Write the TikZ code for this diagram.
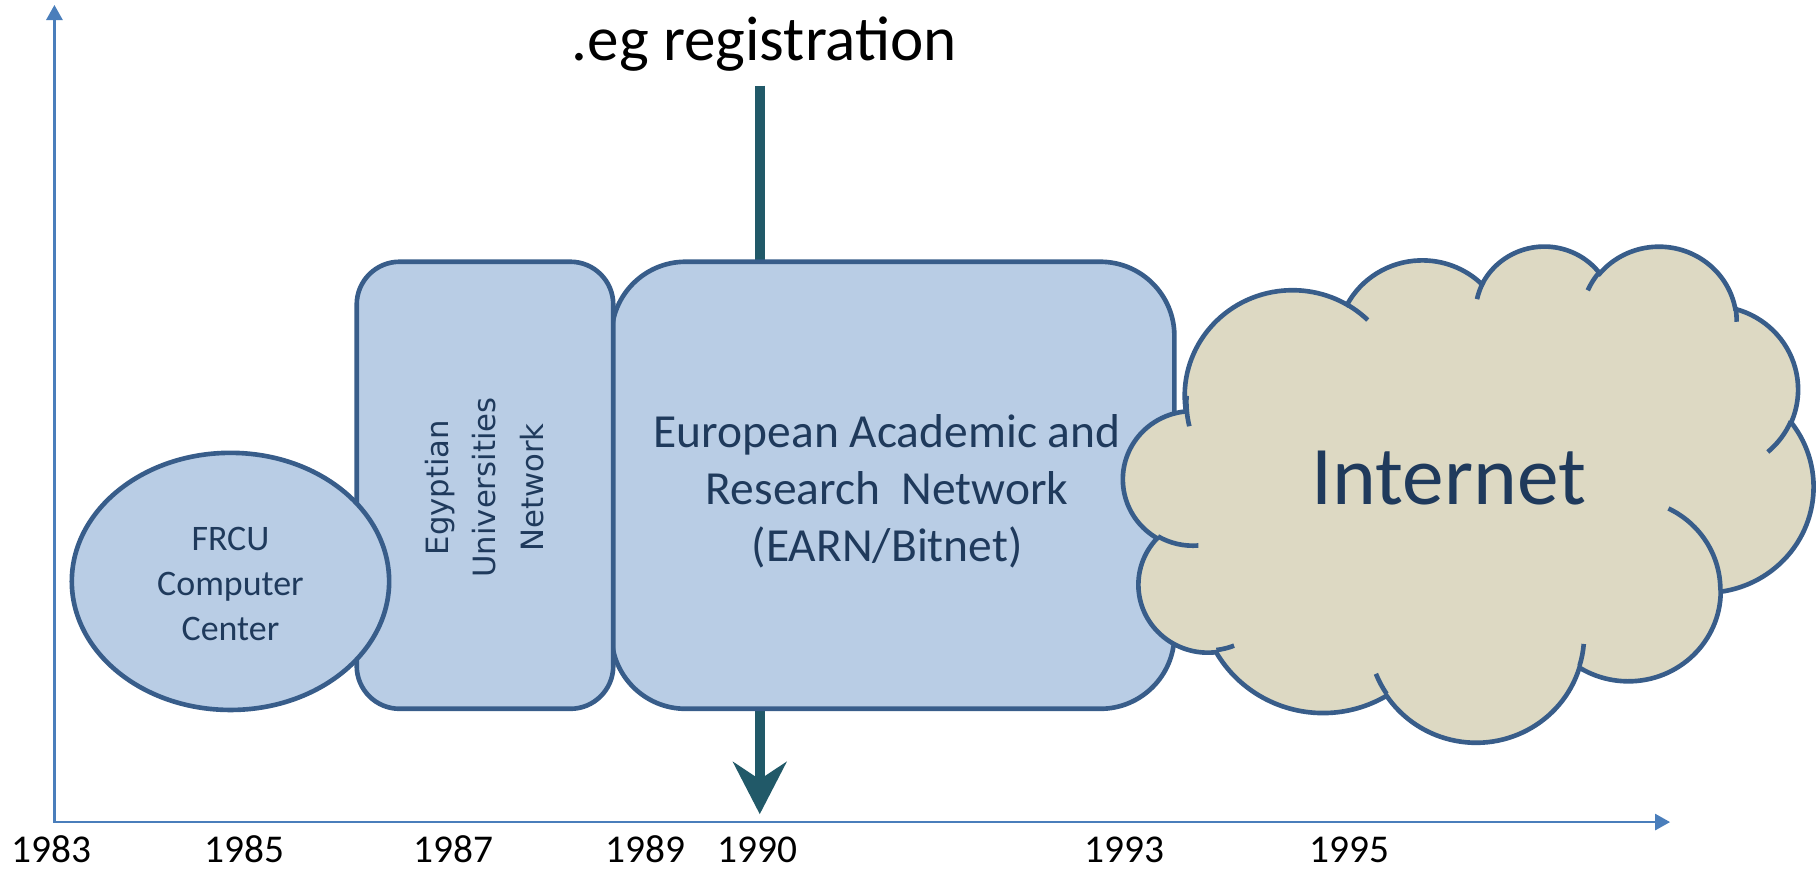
\documentclass[tikz,border=0pt]{standalone}
\usepackage{fontspec}
\setmainfont{Carlito}
\newfontfamily\egyfont{DejaVu Sans}
\usetikzlibrary{arrows.meta}

\definecolor{netfill}{HTML}{B9CDE5}
\definecolor{netline}{HTML}{385D8A}
\definecolor{cloudfill}{HTML}{DDD9C3}
\definecolor{axisblue}{HTML}{4A7EBB}
\definecolor{regteal}{HTML}{215968}
\definecolor{netnavy}{HTML}{1F3A5C}

\tikzset{every picture/.style={line width=0.75pt}}
\tikzset{
  netbox/.style={draw=netline, line width=4, fill=netfill},
  cloudbody/.style={draw=netline, line width=4, fill=cloudfill},
  cloudcurl/.style={draw=netline, line width=4},
  axisline/.style={draw=axisblue, line width=2, {Triangle[length=13pt,width=14pt]}-{Triangle[length=13pt,width=14pt]}},
  regarrow/.style={draw=regteal, line width=8.6, -{Stealth[length=45pt,width=46pt,inset=15pt]}},
  yearlab/.style={anchor=base, font=\fontsize{34}{40}\selectfont},
  nettext/.style={text=netnavy, align=center, inner sep=0pt},
}

% cloud outline arcs: visual angle -> parametric angle
\newcommand\cloudseg[5]{%
  \pgfmathsetmacro\cta{atan2((#2)*sin(#4),(#3)*cos(#4))}%
  \pgfmathsetmacro\ctb{atan2((#2)*sin(#4+#5),(#3)*cos(#4+#5))}%
  \pgfmathsetmacro\ctd{\ctb-\cta}%
  \pgfmathsetmacro\ctd{\ctd-360*round((\ctd-(#5))/360)}%
  \edef\cttmp{\noexpand\tikzset{#1/.style={x radius=#2,y radius=#3,start angle=\cta,delta angle=\ctd}}}%
  \cttmp}
\cloudseg{outA}{6753}{9190}{-190.4875}{123.7805}
\cloudseg{outB}{5333}{7267}{-144.1024}{89.9452}
\cloudseg{outC}{4365}{5945}{-145.8079}{99.7230}
\cloudseg{outD}{4857}{6595}{-130.9861}{117.2417}
\cloudseg{outE}{5333}{7273}{-78.7089}{109.0269}
\cloudseg{outF}{6775}{9220}{-46.2673}{130.2690}
\cloudseg{outG}{5785}{7867}{0.6250}{114.0333}
\cloudseg{outH}{6752}{9215}{22.4516}{115.1726}
\cloudseg{outI}{7720}{10543}{66.2426}{75.7110}
\cloudseg{outJ}{4360}{5918}{-274.9421}{146.7356}
\cloudseg{outK}{4345}{5945}{-246.8285}{152.5189}
\cloudseg{curlA}{4345}{5945}{86.7420}{26.4295}
\cloudseg{curlB}{4360}{5918}{73.6105}{11.4475}
\cloudseg{curlC}{6752}{9215}{137.6242}{14.0811}
\cloudseg{curlD}{6752}{9215}{6.4533}{15.9984}
\cloudseg{curlE}{5785}{7867}{-70.2924}{70.9174}
\cloudseg{curlF}{5333}{7273}{30.3180}{27.7515}
\cloudseg{curlG}{4857}{6595}{-13.7443}{14.8548}
\cloudseg{curlH}{4857}{6595}{-149.1815}{18.1961}
\cloudseg{curlI}{4365}{5945}{-163.4943}{19.0084}
\cloudseg{curlJ}{6753}{9190}{-66.7070}{12.3194}
\cloudseg{curlK}{6753}{9190}{162.0364}{22.2949}

\begin{document}
\begin{tikzpicture}[x=1pt,y=1pt,yscale=-1,xscale=1]
	\useasboundingbox (0,0) rectangle (1568,752);
	
	%Straight Lines: .eg registration arrow
	\coordinate (regtop) at (656,74);
	\coordinate (regtip) at (656,703);
	\draw [regarrow] (regtop) -- (regtip);
	%Shape: Rounded Rect (EARN)
	\draw [netbox, rounded corners=64] (528,226) rectangle (1014,612);
	%Shape: Rounded Rect (Egyptian Universities Network)
	\draw [netbox, rounded corners=37] (308,226) rectangle (529.5,612);
	%Shape: Ellipse (FRCU)
	\draw [netbox] (199,502) ellipse [x radius=137, y radius=111];
	%Shape: Cloud (Internet)
	\begin{scope}[shift={(970,211.5)},x=0.01pt,y=0.01pt,xscale=1.3796,yscale=0.9919]
		\draw [cloudbody] (3900,14370) arc[outA] arc[outB] arc[outC] arc[outD] arc[outE] arc[outF] arc[outG] arc[outH] arc[outI] arc[outJ] arc[outK] -- cycle;
		\draw [cloudcurl] (4693,26177) arc[curlA] (6928,34899) arc[curlB] (16478,39090) arc[curlC] (28827,34751) arc[curlD] (34129,22954) arc[curlE] (41798,15354) arc[curlF] (38324,5426) arc[curlG] (29078,3952) arc[curlH] (22141,4720) arc[curlI] (14000,5192) arc[curlJ] (4127,15789) arc[curlK];
	\end{scope}
	
	%Straight Lines: time axes
	\coordinate (origin) at (47,709.8);
	\coordinate (xtip) at (1442,709.8);
	\coordinate (ytip) at (47,4.3);
	\draw [axisline] (ytip) -- (origin) -- (xtip);
	
	% labels
	\node [anchor=base, font=\fontsize{54.5}{64}\selectfont] (reg) at (660,52) {.eg registration};
	\node [nettext, font=\fontsize{31}{38.8}\selectfont] (frcu) at (199,504) {FRCU\\Computer\\Center};
	\node [nettext, font=\egyfont\fontsize{26.5}{41}\selectfont, rotate=90] (egun) at (418,421) {Egyptian\\Universities\\Network};
	\node [nettext, font=\fontsize{41}{49}\selectfont] (earn) at (766,424) {European Academic and\\Research~ Network\\(EARN/Bitnet)};
	\node [nettext, anchor=base, font=\fontsize{72}{86}\selectfont] (inet) at (1251,436) {Internet};
	\foreach \yr/\xx in {1983/44.6,1985/211,1987/391.6,1989/557.6,1990/654.3,1993/971,1995/1165}
		\node [yearlab] (y\yr) at (\xx,745) {\yr};
	
\end{tikzpicture}
\end{document}
